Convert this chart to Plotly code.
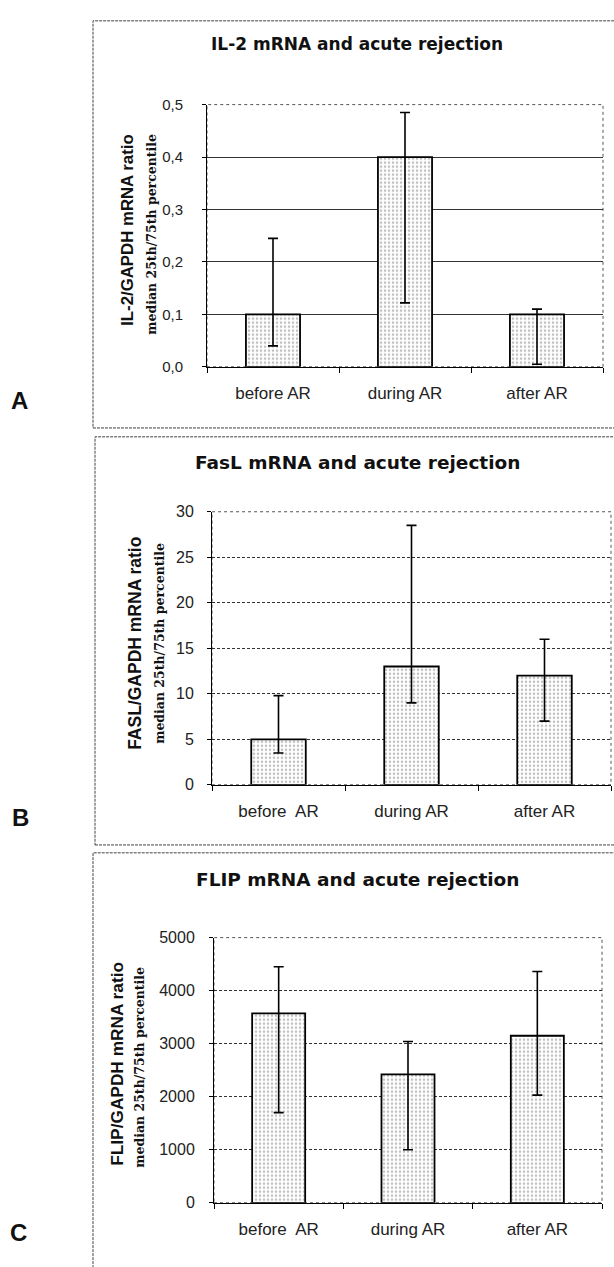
import plotly.graph_objects as go

W, H = 614, 1267

categories = ["before AR", "during AR", "after AR"]
categories_bc = ["before  AR", "during AR", "after AR"]

# Panel A: IL-2
il2_median = [0.1, 0.4, 0.1]
il2_q25 = [0.04, 0.122, 0.005]
il2_q75 = [0.245, 0.485, 0.11]
il2_ticks = [0.0, 0.1, 0.2, 0.3, 0.4, 0.5]
il2_ticktext = ["0,0", "0,1", "0,2", "0,3", "0,4", "0,5"]

# Panel B: FasL
fasl_median = [5, 13, 12]
fasl_q25 = [3.5, 9, 7]
fasl_q75 = [9.8, 28.5, 16]
fasl_ticks = [0, 5, 10, 15, 20, 25, 30]

# Panel C: FLIP
flip_median = [3570, 2420, 3150]
flip_q25 = [1700, 1000, 2030]
flip_q75 = [4450, 3040, 4360]
flip_ticks = [0, 1000, 2000, 3000, 4000, 5000]

titles = ["IL-2 mRNA and acute rejection", "FasL mRNA and acute rejection",
          "FLIP mRNA and acute rejection"]
ytitles1 = ["IL-2/GAPDH mRNA ratio", "FASL/GAPDH mRNA ratio", "FLIP/GAPDH mRNA ratio"]
ytitle2 = "median 25th/75th percentile"
letters = ["A", "B", "C"]

SANS = "Liberation Sans, Arial, sans-serif"
WIDE = "DejaVu Sans, Liberation Sans, sans-serif"
SERIF = "DejaVu Serif, Liberation Serif, serif"

def px(x):
    return x / W

def py(y):
    return 1 - y / H

# plot areas in pixels: (left, right, top, bottom)
areas = [(207, 603, 97, 363), (212, 611, 510, 787), (214, 602, 942, 1211)]

panels = [
    (categories, il2_median, il2_q25, il2_q75, il2_ticks, il2_ticktext, [0, 0.5]),
    (categories_bc, fasl_median, fasl_q25, fasl_q75, fasl_ticks, [str(t) for t in fasl_ticks], [0, 30]),
    (categories_bc, flip_median, flip_q25, flip_q75, flip_ticks, [str(t) for t in flip_ticks], [0, 5000]),
]

fig = go.Figure()
shapes = []
annotations = []
griddash = ["solid", "3px,2px", "3px,2px"]
ystandoff = [20, 14, 15]
ytick_size = [15, 16, 16]

for i, (cats, med, q25, q75, ticks, ticktext, yr) in enumerate(panels):
    n = i + 1
    xa = "x" if n == 1 else f"x{n}"
    ya = "y" if n == 1 else f"y{n}"
    fig.add_trace(go.Bar(
        x=cats, y=med, xaxis=xa, yaxis=ya,
        marker=dict(color="white", line=dict(color="black", width=1.8),
                    pattern=dict(shape=".", fgcolor="#808080", bgcolor="white",
                                 size=4, solidity=0.3)),
        error_y=dict(type="data", symmetric=False,
                     array=[b - m for b, m in zip(q75, med)],
                     arrayminus=[m - a for m, a in zip(med, q25)],
                     color="black", thickness=1.6, width=5),
        showlegend=False,
    ))
    l, r, t, b = areas[i]
    xkey = "xaxis" if n == 1 else f"xaxis{n}"
    ykey = "yaxis" if n == 1 else f"yaxis{n}"
    fig.update_layout(**{
        xkey: dict(domain=[px(l), px(r)], anchor=ya, showline=True, linecolor="black",
                   linewidth=1, ticks="outside", ticklen=5, tickcolor="black",
                   tickson="boundaries", showgrid=False, ticklabelstandoff=11,
                   tickfont=dict(family=SANS, size=17, color="#222"), fixedrange=True),
        ykey: dict(domain=[py(b), py(t)], anchor=xa, range=yr, tickvals=ticks,
                   ticktext=ticktext, showline=True, linecolor="black", linewidth=1,
                   ticks="outside", ticklen=4, tickcolor="black",
                   showgrid=True, gridcolor="#333", gridwidth=1, griddash=griddash[i],
                   zeroline=False, ticklabelstandoff=ystandoff[i] - 4,
                   tickfont=dict(family=SANS, size=ytick_size[i], color="#222"), fixedrange=True),
    })
    shapes.append(dict(type="rect", xref="paper", yref="paper",
                       x0=px(l), x1=px(r), y0=py(b), y1=py(t),
                       line=dict(color="#555", width=1, dash="dot"), layer="below"))

# panel frames
frames = [(93, 640, 12, 425), (95, 640, 434, 848), (93, 640, 856, 1300)]
for (x0, x1, y0, y1) in frames:
    shapes.append(dict(type="rect", xref="paper", yref="paper",
                       x0=px(x0), x1=px(x1), y0=py(y1), y1=py(y0),
                       line=dict(color="#444", width=1, dash="3px,1px"), layer="below"))

title_pos = [(357, 36), (357, 460), (357, 883)]
title_size = [17, 18.5, 18.5]
yt1 = [(128, 225), (135, 644), (117, 1070)]
yt1_size = [16.8, 17.5, 17.3]
yt2 = [(152, 229), (160, 644), (140, 1074)]
letter_pos = [(19, 397), (20, 820), (18, 1241)]

for i in range(3):
    annotations.append(dict(text=f"<b>{titles[i]}</b>", x=px(title_pos[i][0]), y=py(title_pos[i][1]),
                            xref="paper", yref="paper", showarrow=False,
                            xanchor="center", yanchor="middle",
                            font=dict(family=WIDE, size=title_size[i], color="#111")))
    annotations.append(dict(text=f"<b>{ytitles1[i]}</b>", x=px(yt1[i][0]), y=py(yt1[i][1]),
                            xref="paper", yref="paper", showarrow=False, textangle=-90,
                            xanchor="center", yanchor="middle",
                            font=dict(family=SANS, size=yt1_size[i], color="#111")))
    annotations.append(dict(text=f"<b>{ytitle2}</b>", x=px(yt2[i][0]), y=py(yt2[i][1]),
                            xref="paper", yref="paper", showarrow=False, textangle=-90,
                            xanchor="center", yanchor="middle",
                            font=dict(family=SERIF, size=12.5, color="#111")))
    annotations.append(dict(text=f"<b>{letters[i]}</b>", x=px(letter_pos[i][0]), y=py(letter_pos[i][1]),
                            xref="paper", yref="paper", showarrow=False,
                            xanchor="center", yanchor="middle",
                            font=dict(family=SANS, size=24, color="#111")))

fig.update_layout(width=W, height=H, autosize=False,
                  margin=dict(l=0, r=0, t=0, b=0),
                  paper_bgcolor="white", plot_bgcolor="white",
                  bargap=0.59, shapes=shapes, annotations=annotations)

fig.write_html("out.html", config={"displayModeBar": False})
